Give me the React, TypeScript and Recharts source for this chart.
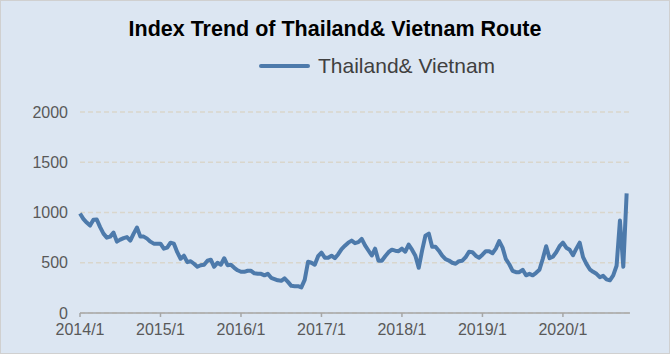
import { LineChart, Line, XAxis, YAxis, CartesianGrid } from "recharts";

// half-monthly index readings, 2014/1 .. 2020/11
const indexValues = [
  990, 937, 900, 870, 927, 930, 854, 790, 750, 760,
  800, 710, 730, 745, 755, 720, 790, 850, 760, 760,
  740, 710, 690, 690, 690, 640, 650, 700, 690, 605,
  540, 570, 506, 515, 490,
  460, 475, 480, 520, 530, 460, 500, 480, 545, 475,
  480, 450, 425, 410, 410, 420, 420, 395, 390, 390,
  375, 390, 350, 338, 325, 320, 345, 310, 270, 267,
  267, 255, 330,
  510, 500, 480, 565, 600, 550, 550, 570, 545, 585,
  635, 670, 700, 720, 695, 705, 738, 672, 622, 572,
  640, 520, 520, 565, 605, 630, 620, 615, 640, 610,
  680, 630, 570, 450, 620,
  770, 790, 660, 660, 620, 570, 535, 522, 500, 490,
  516, 520, 555, 610, 605, 570, 550, 580, 615, 615,
  595, 640, 715, 650, 535, 485, 420, 406, 406, 430,
  375, 390, 375, 400,
  430, 540, 665, 545, 560, 605, 665, 700, 650, 630,
  575, 640, 700, 556, 489, 435, 410, 390, 356, 370,
  335, 325, 375, 470, 920, 460, 1190,
];

const yearLabels = ["2014/1", "2015/1", "2016/1", "2017/1", "2018/1", "2019/1", "2020/1"];
const yTicks = [0, 500, 1000, 1500, 2000];
const seriesName = "Thailand& Vietnam";
const PER_YEAR = 24;

const FONT = '"Liberation Sans", Arial, sans-serif';
const LINE_COLOR = "#4d7aab";

const chartData = indexValues.map((v, i) => ({ t: i, value: v }));

export default function App() {
  return (
    <div
      style={{
        position: "absolute",
        left: 0,
        top: 0,
        width: 670,
        height: 354,
        background: "#dce6f2",
        border: "1px solid #d0d0d0",
        boxSizing: "border-box",
        overflow: "hidden",
      }}
    >
      <div
        style={{
          position: "absolute",
          top: 16,
          left: 0,
          width: 668,
          textAlign: "center",
          fontFamily: FONT,
          fontWeight: "bold",
          fontSize: 21.5,
          color: "#000",
        }}
      >
        Index Trend of Thailand&amp; Vietnam Route
      </div>
      {/* legend */}
      <div
        style={{
          position: "absolute",
          top: 53,
          left: 258,
          display: "flex",
          alignItems: "center",
          fontFamily: FONT,
          fontSize: 21,
          color: "#404040",
          whiteSpace: "nowrap",
        }}
      >
        <span
          style={{
            display: "inline-block",
            width: 51,
            height: 4,
            borderRadius: 2,
            background: LINE_COLOR,
            marginRight: 8,
          }}
        />
        {seriesName}
      </div>
      <div style={{ position: "absolute", left: -1, top: -1 }}>
        <LineChart
          width={670}
          height={354}
          data={chartData}
          margin={{ top: 112, right: 40, bottom: 11, left: 0 }}
        >
          <CartesianGrid
            horizontal
            vertical={false}
            stroke="#d9d6cc"
            strokeDasharray="5 3"
            strokeWidth={1.5}
          />
          <XAxis
            dataKey="t"
            type="number"
            height={30}
            domain={[0, 164]}
            ticks={yearLabels.map((_, i) => i * PER_YEAR)}
            tickFormatter={(t: number) => yearLabels[Math.round(t / PER_YEAR)]}
            axisLine={{ stroke: "#a6a6a6", strokeWidth: 1.5 }}
            tickLine={{ stroke: "#a6a6a6", strokeWidth: 1.5 }}
            tickSize={4}
            tickMargin={7}
            tick={{ fontSize: 16, fill: "#595959", fontFamily: FONT }}
            interval={0}
          />
          <YAxis
            width={80}
            domain={[0, 2000]}
            ticks={yTicks}
            axisLine={false}
            tickLine={false}
            tickSize={6}
            tickMargin={6}
            tick={{ fontSize: 16, fill: "#595959", fontFamily: FONT }}
          />
          <Line
            type="linear"
            dataKey="value"
            name={seriesName}
            stroke={LINE_COLOR}
            strokeWidth={4}
            strokeLinejoin="round"
            dot={false}
            isAnimationActive={false}
          />
        </LineChart>
      </div>
    </div>
  );
}
